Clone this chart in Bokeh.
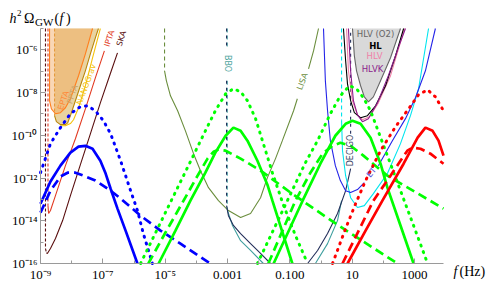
from bokeh.plotting import figure
from bokeh.models import Label, FixedTicker, Range1d
from bokeh.embed import file_html
from bokeh.resources import INLINE

NAN = float("nan")

# ---------------- axis ticks ----------------
X_TICK_EXP = [-9, -7, -5, -3, -1, 1, 3]
X_TICK_LABELS = ["10⁻⁹", "10⁻⁷", "10⁻⁵", "0.001", "0.100", "10", "1000"]
X_MINOR_EXP = [-8, -6, -4, -2, 0, 2]
Y_TICK_EXP = [-16, -14, -12, -10, -8, -6]
Y_TICK_LABELS = ["10⁻¹⁶", "10⁻¹⁴", "10⁻¹²", "10⁻¹⁰", "10⁻⁸", "10⁻⁶"]
Y_MINOR_EXP = [-15, -13, -11, -9, -7, -5]
X_LOG_MIN, X_LOG_MAX = -9.0, 3.93      # plotted box
Y_LOG_MIN, Y_LOG_MAX = -16.0, -5.0

# ---------------- data: log10 f [Hz]  /  log10 h^2 Omega_GW ----------------
SKA_DASH_F = [-8.84, -8.84, -8.81]
SKA_DASH_O = [-5.0, -15.3, -15.5]
SKA_F = [-8.81, -8.78, -8.68, -8.52, -8.29, -8.04, -7.72, -7.40, -7.08, -6.75, -6.53]
SKA_O = [-15.5, -15.53, -15.30, -14.83, -13.99, -12.82, -11.37, -9.93, -8.48, -7.07, -6.14]

IPTA_DASH_F = [-8.76, -8.76]
IPTA_DASH_O = [-5.0, -13.3]
IPTA_F = [-8.76, -8.74, -8.68, -8.52, -8.20, -7.88, -7.56, -7.24, -6.95]
IPTA_O = [-13.3, -13.66, -13.52, -12.82, -11.42, -10.16, -8.76, -7.31, -6.05]

PPTA_DASH_F = [-8.55, -8.55]
PPTA_DASH_O = [-5.0, -9.08]
PPTA_F = [-8.55, -8.49, -8.36, -8.20, -8.13, -8.04, -7.88, -7.72, -7.56, -7.40, -7.24, -7.14]
PPTA_O = [-9.08, -9.36, -9.50, -9.50, -9.42, -9.08, -8.38, -7.68, -6.98, -6.19, -5.44, -5.0]

EPTA_F = [-8.71, -8.71, -8.65, -8.52, -8.36, -8.20, -8.04, -7.78, -7.56, -7.33]
EPTA_O = [-5.0, -8.38, -8.76, -8.99, -8.94, -8.71, -8.29, -7.21, -6.19, -5.0]

NANOGRAV_F = [-8.36, -8.20, -8.04, -7.94, -7.78, -7.56, -7.33, -7.08]
NANOGRAV_O = [-9.55, -9.55, -9.45, -9.27, -8.71, -7.68, -6.37, -5.0]

LISA_DASH_F = [-5.02, -5.02]
LISA_DASH_O = [-5.0, -6.98]
LISA_F = [-5.02, -4.96, -4.83, -4.60, -4.35, -4.09, -3.87, -3.61, -3.29, -2.97, -2.58,
          -2.26, -1.94, -1.72, -1.46, -1.24, -0.88, -0.76, NAN, -0.40, -0.24, -0.08]
LISA_O = [-6.98, -7.45, -8.15, -8.85, -9.79, -10.86, -11.65, -12.45, -13.06, -13.52, -13.85,
          -13.66, -12.92, -11.98, -11.09, -10.25, -8.85, -8.29, NAN, -6.89, -6.05, -5.0]

DECIGO_DASH_F = [-3.03, -3.03, NAN, -3.03, -3.03, NAN, 0.95, 0.95]
DECIGO_DASH_O = [-5.0, -5.86, NAN, -7.45, -13.29, NAN, -9.93, -5.0]
DECIGO_F = [-3.03, -2.97, -2.81, -2.58, -2.26, -1.94, -1.62, NAN, -0.43, -0.11, 0.21, 0.53, 0.79, 0.95]
DECIGO_O = [-13.29, -13.76, -14.22, -14.60, -15.07, -15.53, -16.0, NAN, -16.0, -15.39, -14.60, -13.66, -12.59, -11.56]

BBO_DASH_F = [-3.01, -3.01, NAN, -3.01, -3.01]
BBO_DASH_O = [-5.0, -5.86, NAN, -7.45, -13.38]
BBO_F = [-3.01, -3.00, -2.84, -2.58, -2.26, -1.85, NAN, -0.18, 0.21, 0.53, 0.66]
BBO_O = [-13.38, -13.52, -14.22, -14.93, -15.39, -16.0, NAN, -16.0, -15.07, -13.99, -13.06]

ET_F = [0.08, 0.14, 0.21, 0.30, 0.46, 0.62, 0.79, 0.95, 1.17, 1.39, NAN, 1.84, 2.29, 2.71, 3.03, 3.35, 3.67]
ET_O = [-5.0, -7.45, -8.85, -10.25, -11.42, -12.12, -12.59, -12.68, -12.54, -12.21, NAN, -11.42, -10.25, -9.22, -8.24, -6.98, -5.0]

CE_DASH_F = [0.66, 0.66]
CE_DASH_O = [-5.0, -9.32]
CE_F = [0.66, 0.69, 0.79, 0.95, 1.17, 1.39, 1.68, 2.13, 2.55, 2.87, 3.13, 3.45]
CE_O = [-9.32, -10.72, -11.89, -12.92, -13.38, -13.29, -12.73, -11.79, -10.39, -9.08, -7.82, -5.0]

HLVO2_F = [1.01, 1.07, 1.14, 1.27, 1.39, 1.52, 1.68, 1.91, 2.23, 2.55]
HLVO2_O = [-5.0, -6.28, -6.98, -7.68, -8.20, -8.43, -8.20, -7.45, -6.37, -5.0]
HL_F = [0.72, 0.79, 0.85, 0.95, 1.07, 1.27, 1.49, 1.75, 2.07, 2.39, 2.65]
HL_O = [-5.0, -6.51, -7.59, -8.38, -8.94, -9.18, -9.08, -8.62, -7.68, -6.28, -5.0]
HLV_F = [0.82, 0.88, 1.01, 1.17, 1.33, 1.56, 1.84, 2.23, 2.68]
HLV_O = [-5.0, -6.98, -8.38, -9.04, -9.27, -9.13, -8.48, -7.21, -5.0]
HLVK_F = [0.88, 0.95, 1.04, 1.17, 1.33, 1.52, 1.81, 2.16, 2.49, 2.71]
HLVK_O = [-5.0, -6.98, -8.38, -9.04, -9.36, -9.22, -8.48, -7.21, -5.86, -5.0]

BLUE_SOLID_F = [-9.00, -8.68, -8.36, -8.04, -7.78, -7.56, -7.33, -7.08, -6.91, -6.75, -6.53, -6.27, -5.89]
BLUE_SOLID_O = [-13.2, -12.16, -11.42, -10.81, -10.53, -10.49, -10.63, -11.19, -11.79, -12.50, -13.43, -14.46, -16.0]
BLUE_DOT_F = [-9.00, -8.68, -8.36, -8.04, -7.72, -7.49, -7.24, -6.98, -6.75, -6.43, -6.11, -5.89, -5.70, -5.41]
BLUE_DOT_O = [-11.75, -10.39, -9.64, -8.99, -8.66, -8.62, -8.85, -9.32, -9.93, -11.19, -12.59, -13.52, -14.60, -16.0]
BLUE_DASH_F = [-9.00, -8.68, -8.36, -8.13, -7.88, -7.62, -7.24, -6.75, -6.43, -5.79, -5.15, -4.51, -3.55]
BLUE_DASH_O = [-13.62, -12.59, -11.93, -11.75, -11.75, -11.89, -12.12, -12.59, -12.96, -13.76, -14.46, -15.07, -16.0]

GREEN1_DOT_F = [-5.79, -4.93, -4.19, -3.71, -3.39, -3.06, -2.81, -2.58, -2.36, -2.10, -1.88, -1.56, -1.20, -0.82, -0.43]
GREEN1_DOT_O = [-16.0, -13.43, -11.23, -9.79, -8.85, -8.06, -7.82, -7.96, -8.38, -9.22, -10.25, -11.75, -13.29, -14.69, -16.0]
GREEN1_SOLID_F = [-5.21, -4.67, -4.19, -3.71, -3.39, -3.06, -2.81, -2.58, -2.36, -2.04, -1.72, -1.56, -0.92]
GREEN1_SOLID_O = [-16.0, -14.46, -13.06, -11.75, -10.81, -10.02, -9.64, -9.79, -10.25, -11.19, -12.31, -13.06, -16.0]
GREEN1_DASH_F = [-5.54, -4.99, -4.41, -3.96, -3.64, -3.45, -3.29, -3.06, -2.58, -1.94, -0.98, 0.56, 2.45]
GREEN1_DASH_O = [-16.0, -14.55, -13.06, -11.89, -11.09, -10.77, -10.67, -10.72, -11.09, -11.65, -12.68, -14.22, -16.0]

GREEN2_DOT_F = [-2.04, -1.08, -0.50, -0.11, 0.30, 0.62, 0.91, 1.14, 1.36, 1.59, 2.07, 2.55, 3.03, 3.42]
GREEN2_DOT_O = [-16.0, -13.06, -11.28, -10.25, -8.99, -8.15, -7.68, -7.82, -8.24, -8.85, -10.72, -12.59, -14.46, -16.0]
GREEN2_SOLID_F = [-1.52, -0.59, -0.02, 0.46, 0.79, 1.01, 1.27, 1.59, 1.91, 2.13, 2.55, 2.97]
GREEN2_SOLID_O = [-16.0, -13.06, -11.33, -10.02, -9.46, -9.32, -9.46, -10.11, -11.33, -12.45, -14.22, -16.0]
GREEN2_DASH_F = [-1.69, -0.82, -0.34, 0.05, 0.37, 0.62, 0.95, 1.36, 2.13, 3.93]
GREEN2_DASH_O = [-16.0, -13.06, -11.75, -10.86, -10.49, -10.35, -10.49, -10.95, -11.89, -13.43]

RED_DOT_F = [0.37, 0.79, 1.11, 1.43, 1.91, 2.39, 2.81, 3.13, 3.42, 3.67, 3.93]
RED_DOT_O = [-16.0, -14.36, -13.20, -12.12, -10.72, -9.60, -8.76, -8.10, -7.87, -8.20, -8.85]
RED_SOLID_F = [0.85, 1.43, 1.97, 2.65, 3.10, 3.35, 3.58, 3.77, 3.93]
RED_SOLID_O = [-16.0, -14.46, -13.06, -11.33, -10.11, -9.64, -9.79, -10.25, -10.95]
RED_DASH_F = [0.69, 1.68, 2.23, 2.55, 2.77, 2.93, 3.19, 3.51, 3.93]
RED_DASH_O = [-16.0, -13.06, -11.89, -11.19, -10.72, -10.58, -10.63, -10.86, -11.33]


def P(vals):
    return [10.0 ** v for v in vals]


# canvas 487x286 at the page origin; plotted box at px x 40..443, y 28..263
W_PX, H_PX = 487, 286
BOX_L, BOX_R, BOX_T, BOX_B = 40, 443, 28, 263
dx = (X_LOG_MAX - X_LOG_MIN) / (BOX_R - BOX_L)
dy = (Y_LOG_MAX - Y_LOG_MIN) / (BOX_B - BOX_T)
x_lo = X_LOG_MIN - BOX_L * dx
x_hi = X_LOG_MAX + (W_PX - BOX_R) * dx
y_lo = Y_LOG_MIN - (H_PX - BOX_B) * dy
y_hi = Y_LOG_MAX + BOX_T * dy

p = figure(width=W_PX, height=H_PX, x_axis_type="log", y_axis_type="log",
           x_range=Range1d(10 ** x_lo, 10 ** x_hi), y_range=Range1d(10 ** y_lo, 10 ** y_hi),
           output_backend="svg", toolbar_location=None, min_border=0)
p.grid.visible = False
p.outline_line_color = None
p.background_fill_color = "white"
p.border_fill_color = "white"

xt = [10.0 ** e for e in X_TICK_EXP]
yt = [10.0 ** e for e in Y_TICK_EXP]
p.xaxis.ticker = FixedTicker(ticks=xt, minor_ticks=[10.0 ** e for e in X_MINOR_EXP])
p.yaxis.ticker = FixedTicker(ticks=yt, minor_ticks=[10.0 ** e for e in Y_MINOR_EXP])
p.xaxis.major_label_overrides = {t: s for t, s in zip(xt, X_TICK_LABELS)}
p.yaxis.major_label_overrides = {t: s for t, s in zip(yt, Y_TICK_LABELS)}
p.xaxis.fixed_location = 10.0 ** Y_LOG_MIN
p.yaxis.fixed_location = 10.0 ** X_LOG_MIN
p.xaxis.bounds = (10.0 ** X_LOG_MIN, 10.0 ** X_LOG_MAX)
p.yaxis.bounds = (10.0 ** Y_LOG_MIN, 10.0 ** Y_LOG_MAX)
for ax in (p.xaxis[0], p.yaxis[0]):
    ax.axis_line_color = "#9a9a9a"
    ax.major_tick_line_color = "#9a9a9a"
    ax.minor_tick_line_color = "#9a9a9a"
    ax.major_tick_in = 5
    ax.major_tick_out = 0
    ax.minor_tick_in = 3
    ax.minor_tick_out = 0
    ax.major_label_text_font = "Liberation Serif"
    ax.major_label_text_font_size = "13px"
    ax.major_label_text_color = "black"
    ax.major_label_standoff = 3


def line(F, O, color, width=1.1, dash="solid", cap="butt"):
    p.line(P(F), P(O), line_color=color, line_width=width, line_dash=dash, line_cap=cap)


# fills
p.patch(P(PPTA_DASH_F + PPTA_F), P(PPTA_DASH_O + PPTA_O), fill_color="#E9D3A1", line_color=None)
p.patch(P(EPTA_F), P(EPTA_O), fill_color="#F2A65A", fill_alpha=0.45, line_color=None)
p.patch(P(HLVO2_F), P(HLVO2_O), fill_color="#D9D9D9", line_color=None)

# PTA curves
line(PPTA_DASH_F, PPTA_DASH_O, "#E59A3A", 1.1, "3 2")
line(PPTA_F, PPTA_O, "#B8860B", 1.1)
line(EPTA_F, EPTA_O, "#FF7F1E", 1.1)
line(NANOGRAV_F, NANOGRAV_O, "#F4C20D", 1.1)
line(IPTA_DASH_F, IPTA_DASH_O, "#E23B23", 1.1, "3 2")
line(IPTA_F, IPTA_O, "#E23B23", 1.1)
line(SKA_DASH_F, SKA_DASH_O, "#5A0F0F", 1.1, "3 2")
line(SKA_F, SKA_O, "#5A0F0F", 1.1)

# detector curves
line(LISA_DASH_F, LISA_DASH_O, "#6B8E3E", 1.1, "4 3")
line(LISA_F, LISA_O, "#6B8E3E", 1.1)
line(BBO_DASH_F, BBO_DASH_O, "#3F9F9F", 1.1, "4 3")
line(DECIGO_DASH_F, DECIGO_DASH_O, "#222E5A", 1.1, "3 4")
line(BBO_F, BBO_O, "#3F9F9F", 1.1)
line(DECIGO_F, DECIGO_O, "#222E5A", 1.1)
line(CE_DASH_F, CE_DASH_O, "#00E5EE", 1.1, "4 3")
line(CE_F, CE_O, "#00E5EE", 1.1)
line(ET_F, ET_O, "#2424E8", 1.1)
line(HLVO2_F, HLVO2_O, "#666666", 1.1)
line(HLV_F, HLV_O, "#F07FA8", 1.1)
line(HL_F, HL_O, "#000000", 1.1)
line(HLVK_F, HLVK_O, "#8B1C8B", 1.1)

# GW spectra
LW = 2.7
for col, sets in (("#0000FF", (BLUE_SOLID_F, BLUE_SOLID_O, BLUE_DOT_F, BLUE_DOT_O, BLUE_DASH_F, BLUE_DASH_O)),
                  ("#00FF00", (GREEN1_SOLID_F, GREEN1_SOLID_O, GREEN1_DOT_F, GREEN1_DOT_O, GREEN1_DASH_F, GREEN1_DASH_O)),
                  ("#00FF00", (GREEN2_SOLID_F, GREEN2_SOLID_O, GREEN2_DOT_F, GREEN2_DOT_O, GREEN2_DASH_F, GREEN2_DASH_O)),
                  ("#FF0000", (RED_SOLID_F, RED_SOLID_O, RED_DOT_F, RED_DOT_O, RED_DASH_F, RED_DASH_O))):
    sF, sO, dF, dO, qF, qO = sets
    line(sF, sO, col, LW)
    line(dF, dO, col, 3.0, "1 6", "round")
    line(qF, qO, col, LW, "9 5")


# annotations: positions given in pixels of the reference picture
def to_data(xp, yp):
    lf = X_LOG_MIN + (xp - BOX_L) * dx
    lo = Y_LOG_MIN + (BOX_B - yp) * dy
    return 10.0 ** lf, 10.0 ** lo


def label(text, xp, yp, color, size=8, angle=0, font="DejaVu Sans", style="normal",
          align="center", baseline="middle"):
    x, y = to_data(xp, yp)
    p.add_layout(Label(x=x, y=y, text=text, text_color=color, text_font_size=f"{size}px",
                       text_font=font, text_font_style=style, angle=angle, angle_units="deg",
                       text_align=align, text_baseline=baseline))


label("EPTA", 63, 100, "#FF8A3A", 8, 72)
label("PPTA", 72, 94, "#C9A66B", 8, 72)
label("NANOGrav", 86, 84, "#F4C20D", 8, 70)
label("IPTA", 109, 38, "#E23B23", 8, 72)
label("SKA", 121, 38, "#5A0F0F", 8, 72)
label("BBO", 227, 63, "#4FA6A0", 8, -90)
label("LISA", 302, 81, "#6B8E3E", 8, 70)
label("DECIGO", 350, 150, "#3C4466", 8, 90)
label("ET", 371, 172, "#5050DD", 8, 50)
label("HLV (O2)", 375, 33, "#666666", 8.5)
label("HL", 375, 45, "#000000", 8.5, style="bold")
label("HLV", 374, 55, "#F07FA8", 8.5)
label("HLVK", 372, 68, "#8B1C8B", 8.5)

SERIF = "Liberation Serif"
label("h", 9, 18, "black", 14, font=SERIF, style="italic", align="left", baseline="alphabetic")
label("2", 16.5, 12, "black", 9, font=SERIF, align="left", baseline="alphabetic")
label("Ω", 23.5, 18, "black", 14, font=SERIF, align="left", baseline="alphabetic")
label("GW", 34.5, 21, "black", 11, font=SERIF, align="left", baseline="alphabetic")
label("(", 54, 18, "black", 14, font=SERIF, align="left", baseline="alphabetic")
label("f", 59, 18, "black", 14, font=SERIF, style="italic", align="left", baseline="alphabetic")
label(")", 65.5, 18, "black", 14, font=SERIF, align="left", baseline="alphabetic")
label("f", 453, 271, "black", 14, font=SERIF, style="italic", align="left", baseline="alphabetic")
label("(Hz)", 459, 271, "black", 14, font=SERIF, align="left", baseline="alphabetic")

open("out.html", "w").write(file_html(p, INLINE))
